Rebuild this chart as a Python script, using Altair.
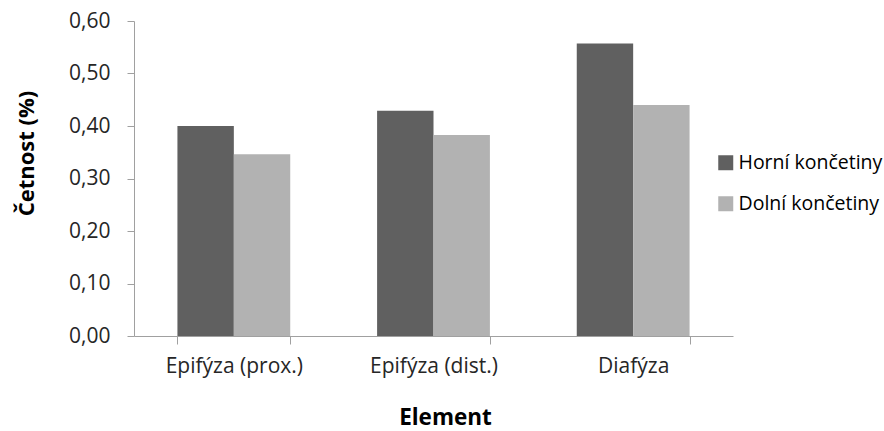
import altair as alt
import pandas as pd

# Relative frequency of finds by skeletal element, upper vs. lower limbs
elements = ["Epifýza (prox.)", "Epifýza (dist.)", "Diafýza"]
series = ["Horní končetiny", "Dolní končetiny"]
horni = [0.400, 0.429, 0.557]
dolni = [0.346, 0.383, 0.440]
y_ticks = [0.0, 0.1, 0.2, 0.3, 0.4, 0.5, 0.6]
colors = ["#606060", "#b2b2b2"]

rows = []
for i, el in enumerate(elements):
    rows.append({"Element": el, "Skupina": series[0], "Cetnost": horni[i]})
    rows.append({"Element": el, "Skupina": series[1], "Cetnost": dolni[i]})
df = pd.DataFrame(rows)

FONT = "Open Sans"
AXIS_GREY = "#a0a0a0"

chart = (
    alt.Chart(df)
    .mark_bar()
    .encode(
        x=alt.X(
            "Element:N",
            sort=elements,
            scale=alt.Scale(paddingInner=0.435, paddingOuter=0.2175),
            axis=alt.Axis(
                title="Element",
                labelAngle=0,
                labelFont=FONT,
                labelFontSize=21,
                labelColor="#262626",
                labelPadding=11,
                tickBand="extent",
                tickSize=8,
                tickColor=AXIS_GREY,
                domainColor=AXIS_GREY,
                titleFont=FONT,
                titleFontSize=22.5,
                titleFontWeight="bold",
                titleColor="#000000",
                titleBaseline="alphabetic",
                titleX=311,
                titleY=88,
            ),
        ),
        xOffset=alt.XOffset("Skupina:N", sort=series),
        y=alt.Y(
            "Cetnost:Q",
            scale=alt.Scale(domain=[0, 0.6], nice=False),
            axis=alt.Axis(
                title="Četnost (%)",
                values=y_ticks,
                labelExpr="replace(format(datum.value, '.2f'), '.', ',')",
                labelFont=FONT,
                labelFontSize=21,
                labelColor="#262626",
                labelPadding=17,
                tickSize=7,
                tickColor=AXIS_GREY,
                domainColor=AXIS_GREY,
                grid=False,
                titleFont=FONT,
                titleFontSize=22,
                titleFontWeight="bold",
                titleColor="#000000",
                titleAngle=270,
                titleBaseline="alphabetic",
                titleX=-101,
                titleY=132,
            ),
        ),
        color=alt.Color(
            "Skupina:N",
            sort=series,
            scale=alt.Scale(domain=series, range=colors),
            legend=alt.Legend(
                title=None,
                orient="none",
                legendX=582,
                legendY=132,
                symbolType="square",
                symbolSize=225,
                symbolStrokeWidth=0,
                labelFont=FONT,
                labelFontSize=19.5,
                labelColor="#000000",
                labelOffset=3,
                rowPadding=20,
            ),
        ),
    )
    .properties(
        width=599,
        height=315,
        background="#ffffff",
        autosize=alt.AutoSizeParams(type="none"),
        padding={"left": 134, "top": 21, "right": 151, "bottom": 95},
    )
    .configure_view(strokeWidth=0)
)

chart.save("out.html", embed_options={"renderer": "svg", "actions": False})
